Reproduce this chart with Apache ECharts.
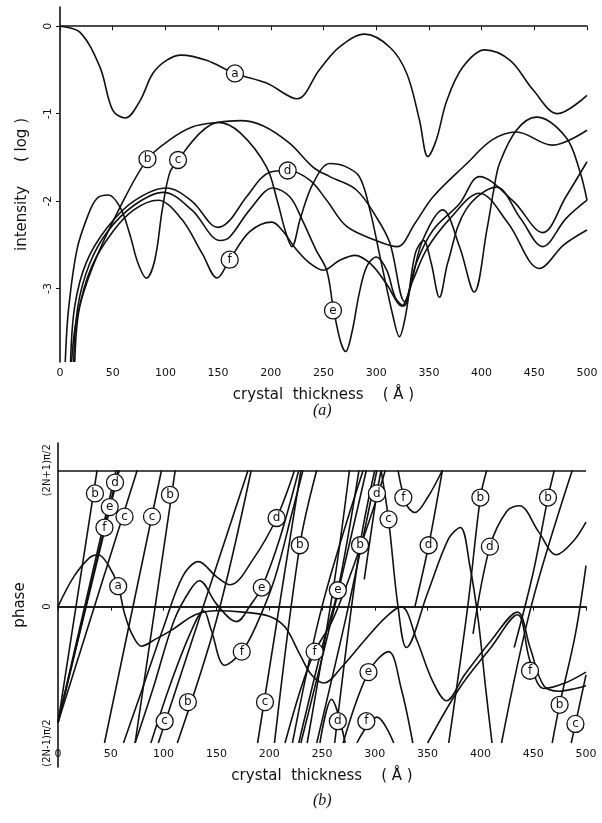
<!DOCTYPE html>
<html>
<head>
<meta charset="utf-8">
<script src="https://cdn.jsdelivr.net/npm/echarts@6/dist/echarts.min.js"></script>
<style>
  html, body { margin: 0; padding: 0; background: #fff; }
  #chart { width: 602px; height: 823px; }
</style>
</head>
<body>
<div id="chart"></div>
<script>
// thickness axis ticks (Å)
const thicknessTicks = [0, 50, 100, 150, 200, 250, 300, 350, 400, 450, 500]
const intensityTicks = [0, -1, -2, -3]
const phaseTicks = [-1, 0, 1]
const phaseTickLabels = ['(2N-1)π/2', '0', '(2N+1)π/2']

// (a) log intensity against thickness, curves a-f
const intA = [[0,0],[19,-0.07],[38,-0.47],[50,-0.96],[62,-1.05],[76,-0.85],[88,-0.54],[101,-0.39],[115,-0.33],[139,-0.39],[166,-0.54],[196,-0.65],[225,-0.83],[246,-0.5],[265,-0.24],[289,-0.09],[313,-0.24],[329,-0.54],[341,-1.07],[349,-1.49],[357,-1.3],[367,-0.85],[382,-0.47],[403,-0.27],[427,-0.39],[449,-0.73],[472,-1.0],[500,-0.79]]
const intB = [[11,-3.84],[16,-3.33],[31,-2.75],[57,-2.07],[83,-1.52],[104,-1.3],[126,-1.15],[149,-1.1],[171,-1.08],[193,-1.14],[218,-1.34],[240,-1.61],[256,-1.72],[281,-1.87],[300,-2.18],[313,-2.48],[327,-3.15],[338,-2.71],[354,-2.33],[379,-2.03],[398,-1.72],[430,-2.0],[458,-2.36],[480,-1.95],[500,-1.55]]
const intC = [[5,-3.84],[8,-3.25],[16,-2.56],[26,-2.18],[35,-1.97],[46,-1.93],[57,-2.07],[66,-2.37],[74,-2.71],[82,-2.88],[90,-2.67],[97,-2.1],[104,-1.68],[112,-1.53],[133,-1.22],[150,-1.1],[171,-1.22],[196,-1.61],[206,-1.99],[214,-2.35],[220,-2.52],[228,-2.2],[240,-1.8],[256,-1.57],[270,-1.6],[284,-1.72],[294,-2.1],[303,-2.6],[316,-3.32],[322,-3.55],[328,-3.3],[337,-2.6],[345,-2.45],[352,-2.7],[360,-3.1],[368,-2.7],[385,-2.1],[414,-1.84],[437,-2.2],[458,-2.52],[480,-2.2],[500,-1.99]]
const intD = [[10,-3.84],[14,-3.2],[25,-2.7],[45,-2.3],[70,-2.0],[101,-1.85],[125,-2.0],[150,-2.3],[161,-2.22],[177,-1.95],[199,-1.67],[216,-1.65],[237,-1.76],[253,-1.99],[272,-2.29],[300,-2.45],[320,-2.52],[337,-2.25],[354,-1.95],[386,-1.57],[410,-1.3],[433,-1.21],[467,-1.36],[500,-1.19]]
const intE = [[13,-3.84],[17,-3.2],[28,-2.72],[45,-2.35],[70,-2.05],[98,-1.9],[125,-2.1],[152,-2.45],[161,-2.41],[180,-2.1],[202,-1.85],[218,-1.95],[230,-2.22],[243,-2.56],[253,-2.79],[259,-3.2],[266,-3.6],[271,-3.72],[277,-3.5],[284,-3.05],[291,-2.75],[300,-2.64],[310,-2.79],[318,-3.1],[326,-3.2],[334,-2.9],[344,-2.45],[363,-2.1],[379,-2.52],[393,-3.04],[405,-2.33],[412,-1.84],[417,-1.57],[433,-1.19],[452,-1.04],[480,-1.27],[493,-1.65],[500,-1.99]]
const intF = [[14,-3.84],[18,-3.25],[30,-2.75],[50,-2.35],[70,-2.1],[93,-1.99],[115,-2.2],[135,-2.6],[149,-2.88],[161,-2.67],[180,-2.35],[201,-2.24],[212,-2.35],[222,-2.52],[236,-2.7],[250,-2.79],[265,-2.68],[280,-2.62],[295,-2.72],[310,-2.95],[324,-3.2],[335,-2.9],[348,-2.55],[370,-2.2],[398,-1.91],[425,-2.25],[455,-2.77],[478,-2.5],[500,-2.33]]
const intLabels = [['a',166,-0.54],['b',83,-1.52],['c',112,-1.53],['d',216,-1.65],['e',259,-3.25],['f',161,-2.67]]

// (b) phase in units of pi/2, each curve split where it wraps
const phaseA = [[[0,0],[15,0.22],[30,0.36],[38,0.38],[48,0.3],[57,0.15],[63,-0.05],[70,-0.2],[79,-0.29],[92,-0.24],[108,-0.17],[130,-0.06],[150,-0.03],[175,-0.04],[200,-0.07],[215,-0.15],[229,-0.35],[240,-0.5],[252,-0.56],[268,-0.45],[290,-0.25],[310,-0.08],[325,0.0],[340,-0.25],[355,-0.55],[368,-0.69],[385,-0.5],[410,-0.25],[435,-0.04],[447,-0.3],[460,-0.58],[475,-0.62],[490,-0.6],[500,-0.58]]]
const phaseB = [
  [[0,-0.85],[37,1]],
  [[73,-1],[111,1]],
  [[113,-1],[150,-0.1],[183,1]],
  [[205,-1],[229,0.45],[245,1]],
  [[236,-1],[262,0.2],[276,1]],
  [[262,-1],[286,0.45],[300,1]],
  [[370,-1],[388,0],[400,0.8],[406,1]],
  [[432,-0.3],[450,0.25],[464,0.8],[470,1]],
  [[468,-1],[475,-0.72],[490,-0.2],[500,0.3]]
]
const phaseC = [
  [[0,-0.85],[75,1]],
  [[44,-1],[98,1]],
  [[95,-1],[180,1]],
  [[189,-1],[230,1]],
  [[230,-1],[262,0],[292,1]],
  [[306,1],[313,0.64],[322,0],[330,-0.3],[350,0.1],[370,0.5],[381,0.58],[390,0.3],[398,-0.1],[405,-0.6],[411,-1]],
  [[486,-1],[490,-0.86],[500,-0.5]]
]
const phaseD = [
  [[0,-0.85],[58,1]],
  [[62,-1],[80,-0.6],[100,-0.15],[118,0.22],[133,0.33],[150,0.22],[163,0.16],[185,0.35],[207,0.65],[224,1]],
  [[222,-1],[250,0],[289,1]],
  [[248,-1],[259,-0.68],[272,-1]],
  [[290,0.2],[302,0.83],[306,1]],
  [[338,0],[351,0.45],[364,1]],
  [[393,-0.2],[409,0.44],[425,0.7],[437,0.74],[455,0.55],[472,0.38],[488,0.48],[500,0.62]]
]
const phaseE = [
  [[0,-0.85],[55,1]],
  [[73,-1],[90,-0.6],[110,-0.1],[125,0.12],[134,0.19],[150,0.02],[169,-0.11],[183,0.02],[193,0.14],[210,0.5],[228,1]],
  [[228,-1],[250,-0.3],[265,0.12],[285,1]],
  [[270,-1],[294,-0.48],[313,-0.33],[325,-0.6],[336,-1]],
  [[420,-1],[448,0],[487,1]]
]
const phaseF = [
  [[0,-0.85],[57,1]],
  [[88,-1],[105,-0.6],[125,-0.2],[138,-0.03],[145,-0.17],[158,-0.43],[174,-0.33],[187,-0.15],[205,0.2],[222,0.7],[232,1]],
  [[215,-1],[230,-0.6],[243,-0.33],[260,-0.1],[280,0.3],[300,0.75],[310,1]],
  [[245,-1],[275,0],[302,1]],
  [[283,-1],[302,-0.81],[318,-1]],
  [[322,1],[330,0.75],[338,0.69],[350,0.8],[364,1]],
  [[350,-1],[380,-0.6],[410,-0.3],[435,-0.06],[447,-0.4],[460,-0.6],[480,-0.56],[500,-0.48]]
]
const phaseLabels = [
  ['a',57,0.15],
  ['b',35,0.83],['b',106,0.82],['b',123,-0.7],['b',229,0.45],['b',286,0.45],['b',400,0.8],['b',464,0.8],['b',475,-0.72],
  ['c',63,0.66],['c',89,0.66],['c',101,-0.84],['c',196,-0.7],['c',313,0.64],['c',490,-0.86],
  ['d',54,0.91],['d',207,0.65],['d',265,-0.84],['d',302,0.83],['d',351,0.45],['d',409,0.44],
  ['e',49,0.73],['e',193,0.14],['e',265,0.12],['e',294,-0.48],
  ['f',44,0.58],['f',174,-0.33],['f',243,-0.33],['f',292,-0.84],['f',327,0.8],['f',447,-0.47]
]

const ink = '#111'
const tickFont = { fontFamily: 'DejaVu Sans', fontSize: 11, color: ink }

function curve(data, gi) {
  return {
    type: 'line', xAxisIndex: gi, yAxisIndex: gi, data: data,
    showSymbol: false, smooth: 0.35, silent: true,
    lineStyle: { color: ink, width: 1.6 }
  }
}

function circles(list, gi) {
  return {
    type: 'scatter', xAxisIndex: gi, yAxisIndex: gi, z: 10, silent: true,
    symbol: 'circle', symbolSize: 17,
    itemStyle: { color: '#fff', borderColor: ink, borderWidth: 1.3, opacity: 1 },
    label: { show: true, position: 'inside', formatter: '{b}', fontFamily: 'DejaVu Sans', fontSize: 12, color: ink },
    data: list.map(l => ({ name: l[0], value: [l[1], l[2]] }))
  }
}

const series = []
;[intA, intB, intC, intD, intE, intF].forEach(c => series.push(curve(c, 0)))
;[phaseA, phaseB, phaseC, phaseD, phaseE, phaseF].forEach(segs => segs.forEach(s => series.push(curve(s, 1))))
series.push(circles(intLabels, 0))
series.push(circles(phaseLabels, 1))
// horizontal reference lines at 0 and (2N+1)pi/2
series.push({
  type: 'line', xAxisIndex: 1, yAxisIndex: 1, data: [], silent: true,
  markLine: {
    symbol: 'none', silent: true, label: { show: false },
    lineStyle: { color: ink, width: 1.6, type: 'solid' },
    data: [{ yAxis: 0 }, { yAxis: 1 }]
  }
})

function xAxis(gi, offset) {
  return {
    type: 'value', gridIndex: gi, min: 0, max: 500, interval: 50, offset: offset,
    name: 'crystal  thickness    ( Å )', nameLocation: 'middle', nameGap: 26,
    nameTextStyle: { fontFamily: 'DejaVu Sans', fontSize: 15, color: ink },
    axisLine: { lineStyle: { color: ink, width: 1.6 } },
    axisTick: { show: true, length: 4, lineStyle: { color: ink } },
    axisLabel: Object.assign({ margin: 6 }, tickFont),
    splitLine: { show: false }
  }
}

const chart = echarts.init(document.getElementById('chart'))
chart.setOption({
  animation: false,
  backgroundColor: '#fff',
  grid: [
    { left: 60, top: 7, width: 527, height: 355 },
    { left: 58, top: 443, width: 528, height: 324 }
  ],
  xAxis: [xAxis(0, 0), xAxis(1, -24)],
  yAxis: [
    {
      type: 'value', gridIndex: 0, min: -3.84, max: 0.22,
      name: 'intensity     ( log )', nameLocation: 'middle', nameGap: 30,
      nameTextStyle: { fontFamily: 'DejaVu Sans', fontSize: 15, color: ink },
      axisLine: { show: true, lineStyle: { color: ink, width: 1.6 } },
      axisTick: { show: true, length: 4, customValues: intensityTicks, lineStyle: { color: ink } },
      axisLabel: Object.assign({ rotate: 90, margin: 6, customValues: intensityTicks }, tickFont),
      splitLine: { show: false }
    },
    {
      type: 'value', gridIndex: 1, min: -1.176, max: 1.2,
      name: 'phase', nameLocation: 'middle', nameGap: 30,
      nameTextStyle: { fontFamily: 'DejaVu Sans', fontSize: 15, color: ink },
      axisLine: { show: true, lineStyle: { color: ink, width: 1.6 } },
      axisTick: { show: false },
      axisLabel: Object.assign({
        rotate: 90, margin: 6, customValues: phaseTicks,
        formatter: v => phaseTickLabels[phaseTicks.indexOf(Math.round(v))]
      }, tickFont, { fontSize: 10 }),
      splitLine: { show: false }
    }
  ],
  graphic: [
    { type: 'text', left: 313, top: 403, style: { text: '(a)', font: 'italic 16px "Liberation Serif"', fill: ink } },
    { type: 'text', left: 313, top: 793, style: { text: '(b)', font: 'italic 16px "Liberation Serif"', fill: ink } }
  ],
  series: series
})
</script>
</body>
</html>
